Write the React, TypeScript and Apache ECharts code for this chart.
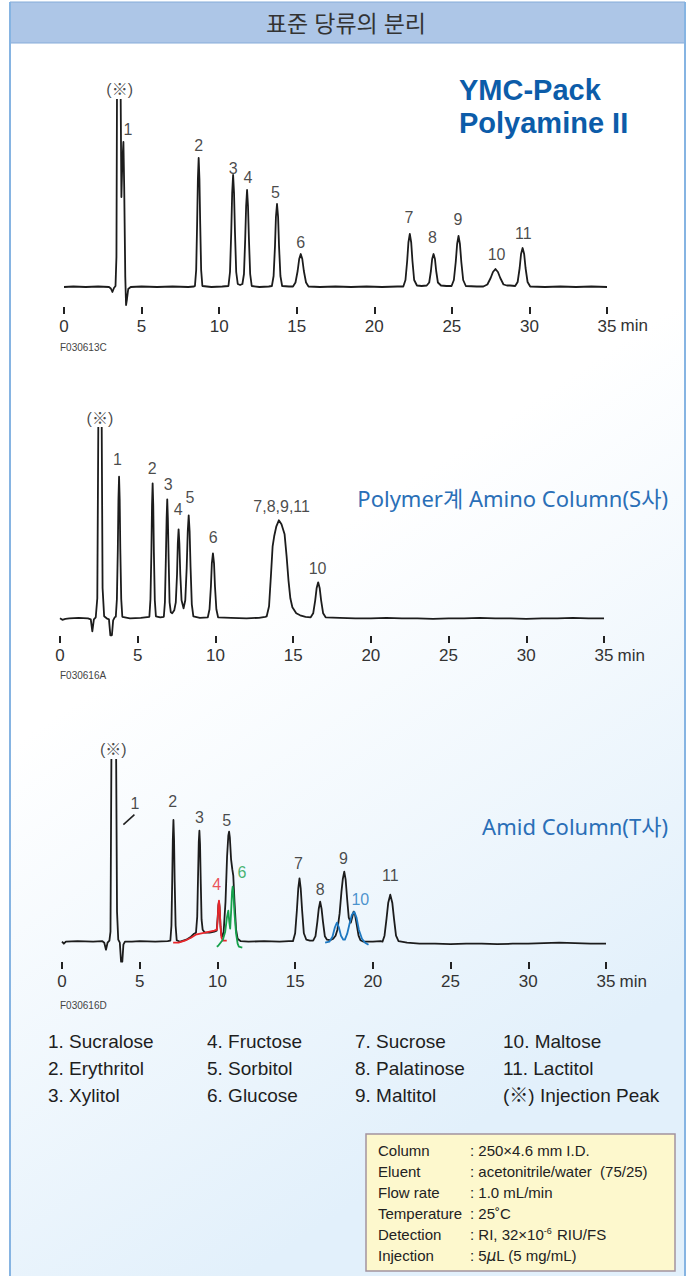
import React, { useEffect, useRef } from "react";
import * as echarts from "echarts";

// ---------------- DATA (time in min, signal above baseline in arbitrary units) ----------------
const timeTicks = [0, 5, 10, 15, 20, 25, 30, 35];

const ymcTrace: number[][] = [
  [0, 0], [0.6, 0.5], [1.4, 0], [2.2, 0.5], [2.9, 0], [3.02, -1.5], [3.12, -5], [3.22, -1], [3.32, 1],
  [3.38, 30], [3.43, 260], [3.62, 260], [3.7, 90], [3.76, 125], [3.83, 145], [3.88, 100], [3.95, 10], [4.0, -18], [4.06, -12], [4.14, -2], [4.3, 0],
  [5, 0.5], [6, 0], [7, 0.5], [8, 0], [8.38, 0.5],
  [8.44, 1], [8.52, 17], [8.58, 63], [8.63, 108], [8.68, 129], [8.73, 108], [8.78, 63], [8.84, 17], [8.92, 1],
  [9.5, 0], [10.2, 0.5],
  [10.6, 1], [10.7, 15], [10.78, 55], [10.84, 94], [10.9, 112], [10.96, 94], [11.02, 55], [11.1, 15], [11.2, 3], [11.35, 2], [11.5, 3],
  [11.6, 13], [11.68, 48], [11.74, 81], [11.8, 97], [11.86, 81], [11.92, 48], [12.0, 13], [12.1, 1],
  [12.6, 0], [13.2, 0.5],
  [13.4, 1], [13.51, 11], [13.6, 41], [13.66, 70], [13.73, 83], [13.8, 70], [13.86, 41], [13.95, 11], [14.06, 1],
  [14.5, 0.5],
  [14.76, 0.5], [14.92, 4.5], [15.06, 16], [15.16, 28], [15.26, 33], [15.36, 28], [15.46, 16], [15.6, 4.5], [15.76, 0.5],
  [16.5, 0], [17.5, 0.5], [18.5, 0], [19.5, 0.5], [20.5, 0], [21.5, 0.5],
  [21.87, 0.5], [22.01, 7], [22.12, 26], [22.2, 44.5], [22.29, 53], [22.38, 44.5], [22.46, 26], [22.57, 7], [22.75, 1.5],
  [23.05, 1],
  [23.38, 1.5], [23.54, 4.5], [23.65, 16], [23.73, 28], [23.82, 33], [23.91, 28], [23.99, 16], [24.1, 4.5], [24.3, 1.5],
  [24.65, 1],
  [24.98, 1], [25.13, 7], [25.25, 25], [25.34, 43], [25.43, 51], [25.52, 43], [25.61, 25], [25.73, 7], [25.9, 1],
  [26.6, 0.5],
  [27.03, 0.5], [27.29, 2.5], [27.5, 9], [27.65, 15], [27.81, 18], [27.97, 15], [28.12, 9], [28.33, 2.5], [28.55, 1.5],
  [28.75, 1.5],
  [29.08, 1], [29.24, 5], [29.37, 19], [29.46, 33], [29.56, 39], [29.66, 33], [29.75, 19], [29.88, 5], [30.05, 0.5],
  [31, 0], [32, 0.5], [33, 0], [34, 0.5], [35, 0],
];

const polymerTrace: number[][] = [
  [0, 0], [0.15, -1.5], [0.35, -0.5], [0.6, 0], [1.2, 0.5], [1.8, 0], [1.98, -1], [2.08, -13], [2.18, -1], [2.3, 1],
  [2.4, 20], [2.49, 260], [2.66, 260], [2.74, 30], [2.84, 2], [3.0, 0], [3.15, -1], [3.24, -17], [3.34, -17], [3.42, -2], [3.52, 1],
  [3.59, 1.5], [3.66, 19], [3.72, 69], [3.76, 119], [3.8, 141.6], [3.84, 119], [3.88, 69], [3.94, 19], [4.01, 1.5],
  [4.5, 0], [5.2, 0.5],
  [5.75, 1.5], [5.82, 19], [5.88, 66], [5.92, 113], [5.96, 135], [6.0, 113], [6.04, 66], [6.1, 18], [6.17, 2],
  [6.45, 1],
  [6.68, 1.5], [6.75, 16], [6.81, 59], [6.86, 100], [6.9, 119], [6.94, 100], [6.99, 59], [7.05, 16], [7.13, 6],
  [7.22, 5],
  [7.35, 8], [7.45, 16], [7.53, 44], [7.58, 75], [7.63, 89], [7.68, 75], [7.74, 44], [7.82, 18],
  [7.95, 10],
  [8.06, 18], [8.15, 50], [8.22, 87], [8.28, 103], [8.34, 87], [8.4, 51], [8.48, 14], [8.58, 2],
  [9.0, 0.5],
  [9.51, 1], [9.62, 9], [9.71, 32], [9.77, 55], [9.84, 65], [9.91, 55], [9.97, 32], [10.06, 9], [10.17, 1],
  [11, 0.5], [12, 0], [12.8, 0.5], [13.2, 1.5],
  [13.3, 2], [13.45, 12], [13.58, 45], [13.68, 72], [13.78, 82], [13.92, 92], [14.08, 98], [14.25, 94], [14.45, 84], [14.58, 62], [14.7, 38], [14.82, 20], [14.95, 11], [15.2, 5], [15.45, 3], [15.8, 1.5],
  [16.13, 1], [16.29, 5], [16.42, 18], [16.51, 30], [16.61, 36], [16.71, 30], [16.8, 18], [16.93, 5], [17.09, 1],
  [18, 0.5], [19, 0], [20, 0], [21, 0.5], [22, 0], [23, 0], [24, -0.5], [25, 0], [26, 0], [27, 0.5], [28, 0], [29, 0], [30, -0.5], [31, 0], [32, 0], [33, 0.5], [34, 0], [35, 0],
];

const amidTrace: number[][] = [
  [0, 0], [0.12, -2], [0.25, 0], [1, 0.5], [2, 0], [2.6, 0.5], [2.72, -1], [2.83, -8], [2.93, -1], [3.05, 1],
  [3.12, 10], [3.2, 250], [3.46, 250], [3.54, 30], [3.62, 2], [3.72, -1], [3.8, -20], [3.88, -20], [3.95, -3], [4.05, 0],
  [4.5, 0], [5, 0.5], [6, 0], [6.8, 0.5],
  [6.97, 1], [7.04, 16], [7.09, 60], [7.13, 102], [7.17, 121.7], [7.21, 102], [7.25, 60], [7.31, 16], [7.38, 1.5],
  [7.6, 0], [8.0, 2], [8.3, 5], [8.5, 8], [8.62, 9],
  [8.7, 25], [8.75, 63], [8.8, 100], [8.84, 111], [8.88, 98], [8.93, 58], [8.98, 22], [9.05, 12],
  [9.2, 9], [9.5, 9], [9.8, 10], [9.95, 11],
  [10.02, 25], [10.06, 36], [10.1, 40], [10.14, 34], [10.2, 15], [10.26, 6], [10.32, 5],
  [10.4, 10], [10.52, 40], [10.62, 85], [10.7, 106], [10.75, 110], [10.8, 104], [10.88, 82], [10.96, 72], [11.02, 66], [11.1, 40], [11.2, 12], [11.3, 3], [11.5, 0.5],
  [12, 0], [13, 0.5], [14, 0], [14.6, 0.5],
  [14.86, 0.5], [15.0, 8.5], [15.11, 31], [15.2, 53], [15.28, 63.4], [15.36, 53], [15.45, 31], [15.56, 8.5], [15.72, 2],
  [15.95, 1],
  [16.16, 1], [16.31, 5.5], [16.43, 20], [16.52, 33], [16.61, 40], [16.7, 33], [16.79, 20], [16.91, 5.5], [17.05, 2],
  [17.25, 1.5],
  [17.45, 3], [17.6, 6], [17.72, 12], [17.86, 28], [17.98, 50], [18.07, 63], [18.16, 70], [18.25, 62], [18.35, 42], [18.45, 24],
  [18.58, 19],
  [18.68, 25], [18.76, 30], [18.84, 28], [18.95, 18], [19.08, 6], [19.2, 1.5], [19.4, 0],
  [20, 0], [20.5, 0.5],
  [20.62, 0], [20.75, 6], [20.88, 23], [20.99, 39], [21.12, 47], [21.25, 39], [21.36, 23], [21.49, 6], [21.65, 0.5],
  [22.2, -1], [23, -2], [24, -2], [25, -2.5], [26, -2], [27, -2], [28, -2.5], [29, -2], [30, -2], [31, -1.5], [32, -1], [33, -1.5], [34, -2], [35, -2],
];

const amidFructose: number[][] = [
  [7.15, -1], [7.5, -1], [7.9, 1], [8.3, 4], [8.6, 7], [8.9, 8], [9.2, 9], [9.5, 10], [9.8, 11], [9.97, 12],
  [10.02, 24], [10.06, 36], [10.1, 41], [10.14, 35], [10.2, 15], [10.26, 4], [10.35, 1], [10.6, 1],
];
const amidGlucose: number[][] = [
  [9.96, -5], [10.05, -4], [10.2, -1], [10.35, 2], [10.5, 10], [10.62, 25], [10.7, 31], [10.76, 20], [10.82, 13],
  [10.88, 30], [10.94, 50], [10.98, 55], [11.03, 48], [11.1, 28], [11.2, 8], [11.3, -2], [11.38, -5], [11.6, -6],
];
const amidMaltose: number[][] = [
  [16.93, -1], [17.2, 0], [17.4, 5], [17.55, 14], [17.69, 19], [17.82, 14], [17.95, 6], [18.1, 2], [18.2, 2],
  [18.35, 8], [18.5, 18], [18.65, 27], [18.8, 30], [18.95, 24], [19.1, 12], [19.3, 3], [19.5, -1], [19.72, -3],
];
const amidLeader: number[][] = [[3.95, 117], [4.66, 127]];

// peak labels: [text, time, signal]
const ymcLabels: [string, number, number][] = [
  ["(※)", 3.59, 198], ["1", 4.13, 158], ["2", 8.68, 142], ["3", 10.9, 119], ["4", 11.86, 110], ["5", 13.63, 95],
  ["6", 15.26, 45], ["7", 22.24, 70], ["8", 23.75, 50], ["9", 25.4, 68], ["10", 27.88, 33], ["11", 29.6, 54],
];
const polymerLabels: [string, number, number][] = [
  ["(※)", 2.57, 200], ["1", 3.69, 159], ["2", 5.94, 150], ["3", 6.96, 134], ["4", 7.61, 109], ["5", 8.36, 121],
  ["6", 9.86, 81], ["7,8,9,11", 14.26, 112], ["10", 16.57, 50],
];
const amidLabels: [string, number, number][] = [
  ["(※)", 3.3, 192], ["1", 4.7, 138], ["2", 7.13, 140], ["3", 8.84, 124], ["4", 9.96, 57], ["5", 10.6, 121],
  ["6", 11.57, 69], ["7", 15.22, 78], ["8", 16.61, 52], ["9", 18.11, 83], ["10", 19.19, 42], ["11", 21.12, 66],
];
const amidLabelTrace = ["black", "black", "black", "black", "red", "black", "green", "black", "black", "black", "blue", "black"];

const chartCodes = ["F030613C", "F030616A", "F030616D"];
const pageTitle = "표준 당류의 분리";
const ymcTitle = ["YMC-Pack", "Polyamine II"];
const columnTitles = ["Polymer계 Amino Column(S사)", "Amid Column(T사)"];

const compounds = [
  "Sucralose", "Erythritol", "Xylitol", "Fructose", "Sorbitol", "Glucose",
  "Sucrose", "Palatinose", "Maltitol", "Maltose", "Lactitol",
];
const injectionLegend = "(※) Injection Peak";

const condLabels = ["Column", "Eluent", "Flow rate", "Temperature", "Detection", "Injection"];
const condValues = [
  ": 250×4.6 mm I.D.",
  ": acetonitrile/water  (75/25)",
  ": 1.0 mL/min",
  ": 25˚C",
  "{n|: RI, 32×10}{s|-6}{n| RIU/FS}",
  "{n|: 5}{i|μ}{n|L (5 mg/mL)}",
];

// ---------------- STYLE / LAYOUT ----------------
const SANS = "'Liberation Sans', 'Noto Sans CJK KR', Arial, sans-serif";
const KR = "'Noto Sans', 'Noto Sans CJK KR', sans-serif";
const TRACE_COLORS: Record<string, string> = { black: "#1c1c1c", red: "#e8262b", green: "#16a14c", blue: "#1d78c1" };

const grids = [
  { left: 64, width: 543, top: 100, height: 207, ymin: -20, ymax: 187, code: 347, label: 327 },
  { left: 60, width: 544, top: 428, height: 208, ymin: -17.7, ymax: 190.3, code: 675, label: 656.5 },
  { left: 62, width: 544, top: 760, height: 202, ymin: -20.3, ymax: 181.7, code: 1005, label: 983 },
];

function buildOption() {
  const xAxis = grids.map((g, i) => ({
    type: "value",
    gridIndex: i,
    position: "bottom",
    min: 0,
    max: 35,
    interval: 5,
    axisLine: { show: true, onZero: false, lineStyle: { color: "rgba(0,0,0,0)", width: 0 } },
    splitLine: { show: false },
    axisTick: { show: true, length: 7, lineStyle: { color: "#222", width: 2 } },
    axisLabel: {
      show: true,
      margin: 11,
      fontSize: 17,
      color: "#333",
      fontFamily: SANS,
      formatter: (v: number) => (timeTicks.includes(v) ? String(v) : ""),
    },
  }));
  const yAxis = grids.map((g, i) => ({
    type: "value",
    gridIndex: i,
    min: g.ymin,
    max: g.ymax,
    show: false,
  }));

  const traceSeries = (data: number[][], idx: number, color: string, z = 3) => ({
    type: "line",
    xAxisIndex: idx,
    yAxisIndex: idx,
    data,
    symbol: "none",
    showSymbol: false,
    silent: true,
    clip: true,
    z,
    lineStyle: { color, width: 1.8, join: "round" },
  });

  const labelSeries = (labels: [string, number, number][], idx: number, colors?: string[]) => ({
    type: "scatter",
    xAxisIndex: idx,
    yAxisIndex: idx,
    silent: true,
    clip: false,
    symbolSize: 0.1,
    itemStyle: { color: "transparent" },
    z: 6,
    data: labels.map((l, k) => ({
      name: l[0],
      value: [l[1], l[2]],
      label: { color: colors && colors[k] !== "black" ? TRACE_COLORS[colors[k]] : "#1a1a1a" },
    })),
    label: {
      show: true,
      position: "inside",
      formatter: (p: any) => p.name,
      fontSize: 16,
      fontFamily: SANS,
      color: "#1a1a1a",
    },
  });

  const series: any[] = [
    traceSeries(ymcTrace, 0, TRACE_COLORS.black),
    traceSeries(polymerTrace, 1, TRACE_COLORS.black),
    traceSeries(amidTrace, 2, TRACE_COLORS.black),
    traceSeries(amidFructose, 2, TRACE_COLORS.red, 4),
    traceSeries(amidGlucose, 2, TRACE_COLORS.green, 4),
    traceSeries(amidMaltose, 2, TRACE_COLORS.blue, 4),
    { ...traceSeries(amidLeader, 2, TRACE_COLORS.black), lineStyle: { color: "#222", width: 1.6 } },
    labelSeries(ymcLabels, 0),
    labelSeries(polymerLabels, 1),
    labelSeries(amidLabels, 2, amidLabelTrace),
  ];

  const graphics: any[] = [];
  const text = (x: number, y: number, t: string, style: any) => ({
    type: "text",
    x,
    y,
    z: 10,
    silent: true,
    style: { text: t, fill: "#222", fontFamily: SANS, fontSize: 15, align: "left", verticalAlign: "middle", ...style },
  });

  // background, frame and header
  graphics.push({
    type: "rect",
    z: -10,
    silent: true,
    shape: { x: 10, y: 2, width: 675, height: 1274 },
    style: {
      fill: new echarts.graphic.LinearGradient(0, 0, 0.35, 1, [
        { offset: 0, color: "#ffffff" },
        { offset: 0.52, color: "#ffffff" },
        { offset: 1, color: "#e2f0fb" },
      ]),
    },
  });
  graphics.push({
    type: "rect",
    z: -5,
    silent: true,
    shape: { x: 10, y: 2, width: 675, height: 41 },
    style: { fill: "#adc6e7", stroke: "#86acd9", lineWidth: 1 },
  });
  graphics.push({ type: "line", z: 11, silent: true, shape: { x1: 10, y1: 2, x2: 10, y2: 1276 }, style: { stroke: "#86b4e2", lineWidth: 2 } });
  graphics.push({ type: "line", z: 11, silent: true, shape: { x1: 685, y1: 2, x2: 685, y2: 1276 }, style: { stroke: "#86b4e2", lineWidth: 2 } });
  graphics.push(text(346, 23, pageTitle, { fontFamily: KR, fontSize: 23, fill: "#333", align: "center" }));

  // column titles
  const ymcFont = { fontFamily: "'Liberation Sans', Arial, sans-serif", fontWeight: 700, fontSize: 29, lineHeight: 29, fill: "#0c5ca9" };
  graphics.push(text(459, 89.5, ymcTitle[0], ymcFont));
  graphics.push(text(459, 122.5, ymcTitle[1], ymcFont));
  graphics.push(text(668, 498, columnTitles[0], { fontFamily: KR, fontSize: 22, fill: "#2a6fb7", align: "right" }));
  graphics.push(text(668, 826, columnTitles[1], { fontFamily: KR, fontSize: 22, fill: "#2a6fb7", align: "right" }));

  // chart codes and "min"
  grids.forEach((g, i) => {
    graphics.push(text(60, g.code, chartCodes[i], { fontSize: 10, fill: "#444" }));
    graphics.push(text(g.left + g.width + 13.5, g.label - 1.5, "min", { fontSize: 17, fill: "#333" }));
  });

  // compound legend
  const colX = [48, 207, 355, 503];
  const rowY = [1041, 1068, 1095];
  compounds.forEach((c, k) => {
    graphics.push(text(colX[Math.floor(k / 3)], rowY[k % 3], `${k + 1}. ${c}`, { fontSize: 19, fill: "#1e1e1e" }));
  });
  graphics.push(text(colX[3], rowY[2], injectionLegend, { fontSize: 19, fill: "#1e1e1e" }));

  // conditions box
  graphics.push({
    type: "rect",
    z: 9,
    silent: true,
    shape: { x: 366, y: 1134, width: 309, height: 137 },
    style: { fill: "#fdf8cd", stroke: "#a3929f", lineWidth: 1.5 },
  });
  const condY = [1150, 1171, 1192, 1213, 1234.5, 1255.5];
  condLabels.forEach((l, k) => {
    graphics.push(text(378, condY[k], l, { fontSize: 15, fill: "#222" }));
    const v = condValues[k];
    if (v.startsWith("{")) {
      graphics.push(text(470, condY[k], v, {
        fontSize: 15,
        fill: "#222",
        rich: {
          n: { fontSize: 15, fontFamily: SANS, fill: "#222", color: "#222" },
          s: { fontSize: 9, fontFamily: SANS, fill: "#222", color: "#222", verticalAlign: "top", padding: [0, 1, 7, 0] },
          i: { fontSize: 15, fontFamily: "'DejaVu Sans', sans-serif", fontStyle: "italic", fill: "#222", color: "#222" },
        },
      }));
    } else {
      graphics.push(text(470, condY[k], v, { fontSize: 15, fill: "#222" }));
    }
  });

  return {
    animation: false,
    backgroundColor: "#ffffff",
    grid: grids.map((g) => ({ left: g.left, width: g.width, top: g.top, height: g.height, containLabel: false, outerBoundsMode: "none" })),
    xAxis,
    yAxis,
    series,
    graphic: { elements: graphics },
  };
}

export default function App() {
  const ref = useRef<HTMLDivElement>(null);
  useEffect(() => {
    const chart = echarts.init(ref.current!, null, { renderer: "svg" });
    chart.setOption(buildOption() as any);
    return () => chart.dispose();
  }, []);
  return <div ref={ref} style={{ position: "absolute", left: 0, top: 0, width: 692, height: 1276 }} />;
}
